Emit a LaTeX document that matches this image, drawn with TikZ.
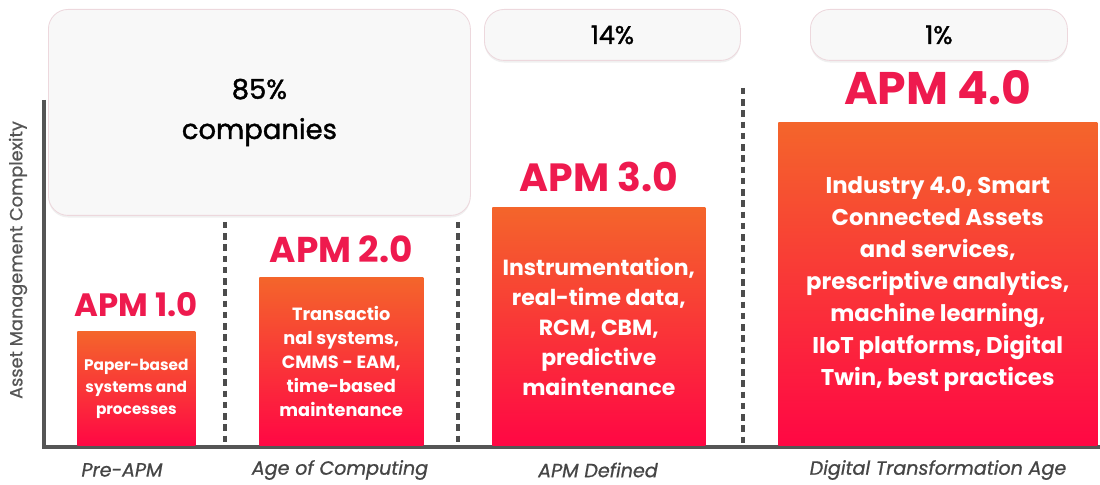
\documentclass[tikz,border=0pt]{standalone}
\usepackage{fontspec}
\setmainfont{Poppins}
\newfontfamily\medfont{Poppins}[FakeBold=1.4]
\newfontfamily\agefont{Poppins}[FakeBold=0.8]
\usetikzlibrary{positioning, shadows}

\definecolor{apmred}{HTML}{EE1A4E}
\definecolor{bartop}{HTML}{F4652B}
\definecolor{barbot}{HTML}{FF0744}
\definecolor{axisgray}{HTML}{555555}
\definecolor{boxfill}{HTML}{F8F8F8}
\definecolor{boxline}{HTML}{EDD8DD}
\definecolor{agegray}{HTML}{454545}

\newcommand{\px}{0.025cm}

\begin{document}
\begin{tikzpicture}[x=0.025cm, y=-0.025cm,
    bar/.style={anchor=south west, inner sep=0pt, top color=bartop, bottom color=barbot,
        text=white, font=\bfseries, align=center},
    apmlabel/.style={inner sep=0pt, text=apmred, font=\bfseries},
    sharebox/.style={anchor=north west, draw=boxline, fill=boxfill, rounded corners=14pt,
        line width=0.6pt, align=center,
        drop shadow={opacity=0.12, shadow xshift=0pt, shadow yshift=-1.5pt}},
    age/.style={text=agegray, font=\agefont\itshape\fontsize{13.6}{16}\selectfont},
    axis/.style={draw=axisgray, line width=2.2pt},
    divider/.style={draw=axisgray!90!black, line width=2.2pt, dash pattern=on 4.5pt off 3.5pt}]

    \useasboundingbox (0,0) rectangle (1100,485);

    % share of companies
    \node[sharebox, minimum width=422*\px, minimum height=206*\px,
        font=\medfont\fontsize{19.5}{28.5}\selectfont] (share85) at (48,9) {85\%\\companies};
    \node[sharebox, minimum width=256*\px, minimum height=51*\px,
        font=\medfont\fontsize{18}{20}\selectfont] (share14) at (484,9) {14\%};
    \node[sharebox, minimum width=257*\px, minimum height=51*\px,
        font=\medfont\fontsize{18}{20}\selectfont] (share1) at (810,9) {1\%};

    % axes
    \coordinate (ytop) at (44,100);
    \coordinate (origin) at (44,447);
    \coordinate (xend) at (1100,447);
    \draw[axis] (ytop) -- (origin) -- (xend);
    \node[rotate=90, text=axisgray, font=\agefont\fontsize{12.6}{14}\selectfont] (ylabel) at (18,260) {Asset Management Complexity};

    % dividers
    \coordinate (d1top) at (225,222);
    \coordinate (d1bot) at (225,446);
    \coordinate (d2top) at (458,222);
    \coordinate (d2bot) at (458,446);
    \coordinate (d3top) at (743,88);
    \coordinate (d3bot) at (743,446);
    \draw[divider] (d1top) -- (d1bot);
    \draw[divider] (d2top) -- (d2bot);
    \draw[divider] (d3top) -- (d3bot);

    % bars
    \node[bar, minimum width=118*\px, minimum height=114*\px,
        font=\bfseries\fontsize{10.9}{15.6}\selectfont] (bar1) at (77,446)
        {Paper-based\\systems and\\processes};
    \node[bar, minimum width=164*\px, minimum height=168*\px,
        font=\bfseries\fontsize{12.6}{17}\selectfont] (bar2) at (259,446)
        {Transactio\\nal systems,\\CMMS - EAM,\\time-based\\maintenance};
    \node[bar, minimum width=213*\px, minimum height=238*\px,
        font=\bfseries\fontsize{15.6}{21.3}\selectfont] (bar3) at (492,446)
        {Instrumentation,\\real-time data,\\RCM, CBM,\\predictive\\maintenance};
    \node[bar, minimum width=319*\px, minimum height=323*\px,
        font=\bfseries\fontsize{16.2}{22.8}\selectfont] (bar4) at (778,446)
        {Industry 4.0, Smart\\Connected Assets\\and services,\\prescriptive analytics,\\machine learning,\\IIoT platforms, Digital\\Twin, best practices};

    % stage titles
    \node[apmlabel, font=\bfseries\fontsize{23}{26}\selectfont, above=14*\px of bar1] (apm1) {APM 1.0};
    \node[apmlabel, font=\bfseries\fontsize{25.5}{28}\selectfont, above=14*\px of bar2] (apm2) {APM 2.0};
    \node[apmlabel, font=\bfseries\fontsize{28}{30}\selectfont, above=15*\px of bar3] (apm3) {APM 3.0};
    \node[apmlabel, font=\bfseries\fontsize{32.5}{36}\selectfont, above=17*\px of bar4] (apm4) {APM 4.0};

    % ages
    \node[age] (age1) at (122,470) {Pre-APM};
    \node[age] (age2) at (340,470) {Age of Computing};
    \node[age] (age3) at (598,470) {APM Defined};
    \node[age] (age4) at (938,470) {Digital Transformation Age};
\end{tikzpicture}
\end{document}
